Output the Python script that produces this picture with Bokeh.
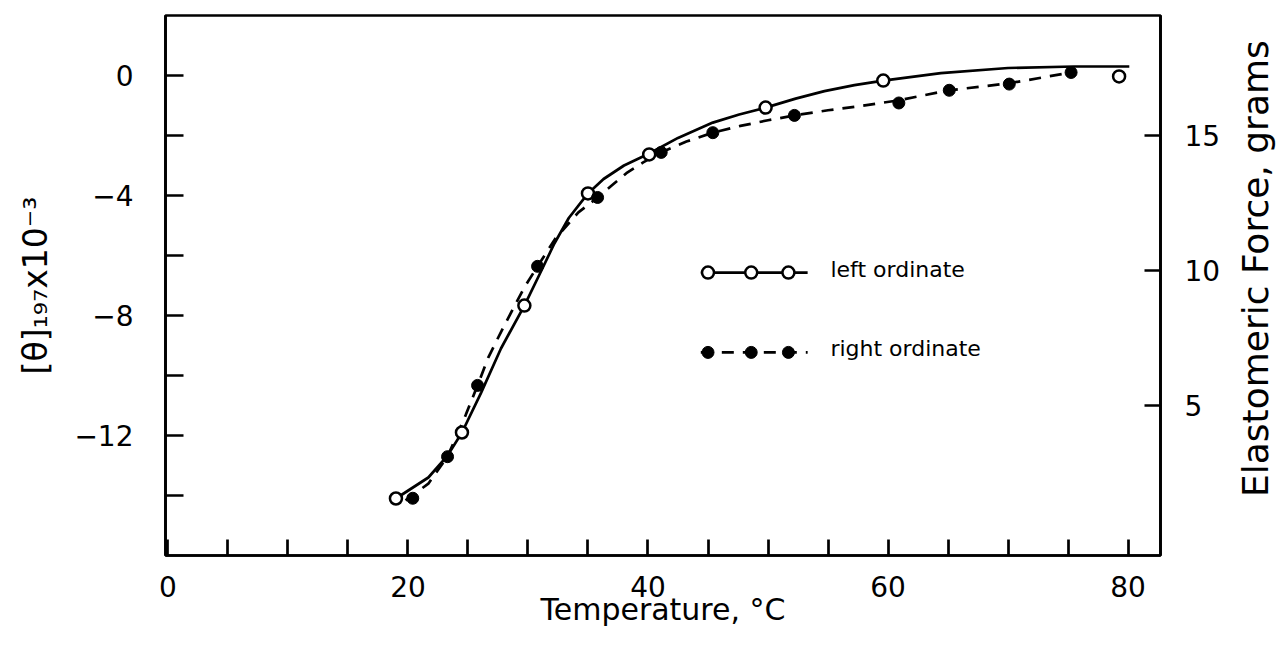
import math
from bokeh.plotting import figure
from bokeh.layouts import row
from bokeh.models import Range1d, LinearAxis, FixedTicker
from bokeh.core.properties import value
from bokeh.embed import file_html
from bokeh.resources import INLINE

# ---- data ----
theta_temp = [19.0, 24.5, 29.7, 35.0, 40.1, 49.8, 59.6, 79.25]
theta_val = [-14.1, -11.9, -7.67, -3.93, -2.63, -1.07, -0.17, -0.03]

force_temp = [20.4, 23.3, 25.8, 30.8, 35.8, 41.1, 45.4, 52.2, 60.9, 65.1, 70.1, 75.25]
force_val = [1.56, 3.1, 5.74, 10.15, 12.7, 14.37, 15.1, 15.74, 16.2, 16.67, 16.9, 17.33]

theta_curve_temp = [19.0, 21.7, 23.3, 24.5, 26.1, 27.75, 29.7, 31.0, 32.2, 33.4, 35.0, 36.3,
                    38.0, 40.1, 42.5, 45.4, 47.6, 49.8, 52.3, 54.7, 57.2, 59.6, 64.4, 70.0,
                    75.5, 80.1]
theta_curve_val = [-14.1, -13.4, -12.67, -11.9, -10.57, -9.1, -7.67, -6.6, -5.6, -4.75, -3.93,
                   -3.45, -3.0, -2.6, -2.08, -1.57, -1.3, -1.07, -0.77, -0.52, -0.32, -0.17,
                   0.08, 0.25, 0.3, 0.3]

force_curve_temp = [19.8, 21.7, 23.3, 24.8, 25.8, 26.7, 27.9, 29.7, 30.8, 32.3, 34.2, 35.8,
                    37.0, 38.2, 39.6, 41.1, 43.2, 45.4, 47.7, 50.0, 52.5, 55.0, 57.9, 60.9,
                    65.1, 70.1, 75.25]
force_curve_val = [1.48, 2.1, 3.11, 4.63, 5.74, 6.78, 7.85, 9.37, 10.15, 11.19, 12.15, 12.7,
                   13.15, 13.6, 14.0, 14.37, 14.77, 15.1, 15.35, 15.56, 15.76, 15.93, 16.1,
                   16.3, 16.67, 16.93, 17.33]

x_ticks = [0, 20, 40, 60, 80]
x_minor = [5, 10, 15, 25, 30, 35, 45, 50, 55, 65, 70, 75]
left_ticks = [0, -4, -8, -12]
left_minor = [-2, -6, -10, -14]
right_ticks = [5, 10, 15]

legend_labels = ["left ordinate", "right ordinate"]
right_title = ["Elastomeric Force, grams"]

FONT = "DejaVu Sans"
LW = 2.7
H = 640

p = figure(
    width=165 + 995 + 72, height=H,
    x_range=Range1d(-0.2, 82.7), y_range=Range1d(-16.0, 2.0),
    output_backend="svg", toolbar_location=None,
    min_border_left=165, min_border_top=15, min_border_right=72, min_border_bottom=85,
    background_fill_color="white", border_fill_color="white",
)
p.extra_y_ranges = {"right": Range1d(-0.56, 19.44)}
p.grid.visible = False
p.outline_line_color = "black"
p.outline_line_width = LW


def style_axis(ax, ticks, minor, tick_len):
    ax.ticker = FixedTicker(ticks=ticks, minor_ticks=minor)
    ax.major_tick_in = tick_len
    ax.major_tick_out = 0
    ax.minor_tick_in = tick_len
    ax.minor_tick_out = 0
    ax.major_tick_line_width = LW
    ax.minor_tick_line_width = LW
    ax.axis_line_width = LW
    ax.major_tick_line_color = "black"
    ax.minor_tick_line_color = "black"
    ax.axis_line_color = "black"
    ax.major_label_text_font = FONT
    ax.major_label_text_font_size = "28px"
    ax.major_label_text_color = "black"
    ax.axis_label_text_font = FONT
    ax.axis_label_text_font_style = "normal"
    ax.axis_label_text_color = "black"


xa = p.xaxis[0]
style_axis(xa, x_ticks, x_minor, 16)
xa.axis_label = "Temperature, °C"
xa.axis_label_text_font_size = "30px"
xa.major_label_standoff = 20
xa.axis_label_standoff = -8

ya = p.yaxis[0]
style_axis(ya, left_ticks, left_minor, 18)
ya.axis_label = "[θ]₁₉₇x10⁻³"
ya.axis_label_text_font_size = "33px"
ya.major_label_standoff = 32
ya.axis_label_standoff = 16

ra = LinearAxis(y_range_name="right")
style_axis(ra, right_ticks, [], 16)
ra.major_label_standoff = 24
p.add_layout(ra, "right")

# curves
p.line(theta_curve_temp, theta_curve_val, line_color="black", line_width=LW)
p.line(force_curve_temp, force_curve_val, line_color="black", line_width=LW,
       line_dash="12 9", y_range_name="right")

# points
p.scatter(theta_temp, theta_val, marker="circle", size=12, fill_color="white",
          line_color="black", line_width=2.5)
p.scatter(force_temp, force_val, marker="circle", size=12, fill_color="black",
          line_color="black", line_width=1, y_range_name="right")

# in-plot legend (positions in data coordinates of left axis)
lx = [45.0, 48.6, 51.7]
ly1, ly2 = -6.57, -9.23
p.line([44.4, 53.3], [ly1, ly1], line_color="black", line_width=LW)
p.scatter(lx, [ly1] * 3, marker="circle", size=12, fill_color="white",
          line_color="black", line_width=2.5)
p.line([44.4, 53.3], [ly2, ly2], line_color="black", line_width=LW, line_dash="12 9")
p.scatter(lx, [ly2] * 3, marker="circle", size=12, fill_color="black",
          line_color="black", line_width=1)
p.text([55.2, 55.2], [ly1 + 0.12, ly2 + 0.12], text=legend_labels,
       text_font=value(FONT), text_font_size="22px", text_baseline="middle",
       text_align="left", text_color="black")

# narrow companion panel holding the right-hand axis title (reads bottom to top)
q = figure(
    width=46, height=H, x_range=Range1d(0, 1), y_range=Range1d(0, H),
    output_backend="svg", toolbar_location=None,
    x_axis_location=None, y_axis_location=None,
    min_border=0, background_fill_color="white", border_fill_color="white",
)
q.grid.visible = False
q.outline_line_color = None
q.text([0.5], [H - 300], text=right_title, angle=math.pi / 2,
       text_font=value(FONT), text_font_size="36px", text_align="center",
       text_baseline="middle", text_color="black")

open("out.html", "w").write(file_html(row(p, q), INLINE))
